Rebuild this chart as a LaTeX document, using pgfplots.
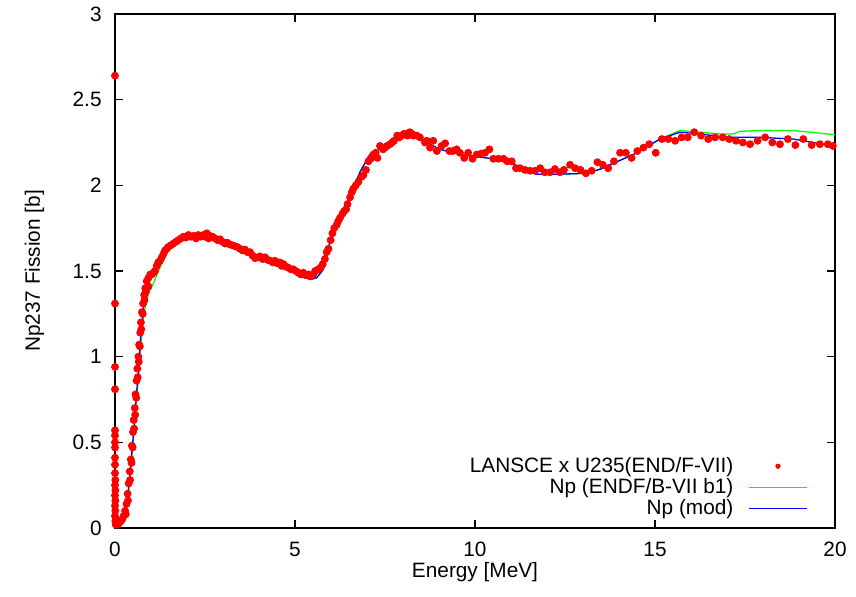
\documentclass[border=0pt]{standalone}
\usepackage{fontspec}
\setmainfont{Liberation Sans}
\usepackage{pgfplots}
\pgfplotsset{compat=1.18}
\definecolor{gpred}{RGB}{255,0,0}
\definecolor{gpgreen}{RGB}{0,255,0}
\definecolor{gpblue}{RGB}{0,0,255}
\newcommand{\gpfont}{\fontsize{10.4}{12.5}\selectfont}
\begin{document}
\begin{tikzpicture}[font=\gpfont]
\useasboundingbox (0,0) rectangle (428pt,298.5pt);
\begin{axis}[
  at={(57.5pt,34.5pt)}, anchor=south west,
  width=360pt, height=257pt, scale only axis,
  xmin=0, xmax=20, ymin=0, ymax=3,
  xtick={0,5,10,15,20}, ytick={0,0.5,1,1.5,2,2.5,3},
  tick align=inside, major tick length=4pt,
  axis line style={line width=0.7pt}, every tick/.style={line width=0.7pt, black},
  /pgf/number format/assume math mode=true,
  tick label style={font=\gpfont},
  yticklabel style={inner sep=0pt, xshift=-6.5pt},
  xticklabel style={inner sep=0pt, yshift=-7pt},
  xlabel={Energy [MeV]}, ylabel={Np237 Fission [b]},
  label style={font=\gpfont},
  every axis x label/.style={at={(axis description cs:0.5,0)}, anchor=base, yshift=-25pt},
  every axis y label/.style={at={(axis description cs:0,0.5)}, xshift=-37.5pt, rotate=90, anchor=base},
  clip=false,
  legend plot pos=right,
  legend cell align=right,
  legend style={draw=none, fill=none, font=\gpfont, at={(0.9625,0.0163)}, anchor=south east,
    inner sep=0pt, row sep=0.5pt, column sep=7.5pt,
    nodes={inner sep=0pt, text height=7.5pt, text depth=2.5pt}},
]
\addplot[only marks, mark=*, mark size=1.75pt, color=gpred,
  legend image code/.code={\fill[gpred] (14.5pt,0.5pt) circle (1.1pt);}]
coordinates {
(0,2.64)(0,1.31)(0,0.94)(0,0.81)(0,0.57)(0,0.54)(0,0.50)(0,0.47)(0,0.41)(0,0.37)(0,0.32)
(0.01,0.28)(0,0.25)(0.01,0.22)(0,0.19)(0.01,0.16)(0,0.13)(0.01,0.10)(0,0.07)(0.01,0.04)(0.02,0.02)
(0.03,0.05)(0.05,0.02)(0.08,0.02)(0.12,0.03)(0.16,0.04)(0.2,0.05)(0.24,0.07)(0.28,0.10)(0.32,0.14)
(0.35,0.20)(0.38,0.26)(0.41,0.33)(0.44,0.40)(0.47,0.48)(0.50,0.56)(0.52,0.63)(0.55,0.70)(0.57,0.78)
(0.60,0.86)(0.62,0.93)(0.65,1.00)(0.67,1.07)(0.70,1.14)(0.72,1.20)(0.75,1.26)(0.78,1.31)(0.81,1.36)
(0.84,1.40)(0.88,1.44)(0.93,1.46)(0.98,1.48)
(0.30,0.08)(0.36,0.16)(0.42,0.28)(0.46,0.38)(0.49,0.47)(0.53,0.58)(0.56,0.66)(0.59,0.76)(0.63,0.88)
(0.66,0.97)(0.69,1.06)(0.73,1.16)(0.77,1.25)(0.82,1.33)(0.86,1.38)
(0.93,1.41)(1.02,1.48)(1.07,1.49)(1.11,1.50)(1.16,1.53)(1.20,1.55)(1.25,1.56)(1.30,1.58)(1.35,1.60)
(1.39,1.62)(1.44,1.63)(1.48,1.64)(1.55,1.65)(1.62,1.66)(1.69,1.67)(1.76,1.68)(1.83,1.69)(1.90,1.70)
(1.97,1.695)(2.04,1.71)(2.11,1.70)(2.18,1.705)(2.25,1.69)(2.31,1.71)(2.38,1.70)(2.45,1.71)(2.50,1.70)
(2.55,1.72)(2.60,1.69)(2.64,1.705)(2.71,1.70)(2.78,1.69)(2.85,1.68)(2.92,1.685)(2.99,1.67)(3.06,1.66)
(3.12,1.665)(3.19,1.655)(3.26,1.65)(3.33,1.645)(3.40,1.64)(3.47,1.63)(3.54,1.62)(3.61,1.625)
(3.68,1.61)(3.75,1.61)(3.82,1.59)(3.89,1.575)(3.96,1.58)(4.03,1.585)(4.10,1.57)(4.17,1.58)
(4.24,1.565)(4.31,1.56)(4.38,1.55)(4.44,1.56)(4.51,1.545)(4.58,1.55)(4.63,1.53)(4.68,1.54)
(4.75,1.525)(4.81,1.52)(4.88,1.51)(4.95,1.51)(5.02,1.50)(5.09,1.49)(5.16,1.48)(5.23,1.49)
(5.30,1.475)(5.37,1.48)(5.44,1.47)(5.51,1.48)(5.56,1.50)(5.65,1.51)(5.71,1.52)(5.77,1.54)(5.83,1.57)
(5.88,1.61)(5.93,1.63)(5.99,1.68)(6.04,1.72)(6.09,1.75)(6.16,1.77)(6.20,1.79)(6.25,1.81)(6.32,1.835)
(6.37,1.85)(6.42,1.86)(6.46,1.89)(6.53,1.93)(6.58,1.96)(6.62,1.98)(6.69,2.00)(6.76,2.02)(6.85,2.05)
(6.90,2.06)(6.97,2.09)(7.04,2.14)(7.10,2.155)(7.18,2.18)(7.24,2.19)(7.29,2.16)(7.36,2.23)(7.45,2.21)
(7.50,2.22)(7.56,2.23)(7.64,2.24)(7.70,2.25)(7.75,2.26)(7.84,2.29)(7.90,2.28)(7.96,2.29)(8.02,2.30)
(8.08,2.30)(8.13,2.29)(8.19,2.31)(8.25,2.30)(8.29,2.29)(8.38,2.29)(8.47,2.28)
(8.61,2.25)(8.66,2.26)(8.75,2.22)(8.84,2.26)(8.94,2.20)(9.07,2.23)(9.17,2.245)(9.29,2.20)(9.38,2.20)
(9.49,2.21)(9.58,2.19)(9.70,2.16)(9.81,2.19)(9.93,2.155)(10.05,2.18)(10.17,2.185)(10.28,2.19)
(10.40,2.21)(10.51,2.155)(10.65,2.155)(10.79,2.155)(10.90,2.14)(11.02,2.14)(11.14,2.10)(11.25,2.10)
(11.39,2.09)(11.53,2.085)(11.67,2.085)(11.81,2.10)(11.94,2.076)(12.08,2.076)(12.22,2.095)
(12.36,2.076)(12.47,2.09)(12.64,2.12)(12.78,2.10)(12.93,2.09)(13.08,2.07)(13.24,2.085)(13.40,2.135)
(13.55,2.12)(13.70,2.10)(13.86,2.14)(14.03,2.19)(14.19,2.19)(14.35,2.16)(14.51,2.20)(14.68,2.22)
(14.84,2.24)(15.02,2.19)(15.19,2.27)(15.37,2.27)(15.56,2.26)(15.74,2.28)(15.91,2.28)(16.09,2.31)
(16.28,2.29)(16.48,2.27)(16.67,2.28)(16.88,2.28)(17.06,2.27)(17.25,2.26)(17.44,2.25)(17.64,2.24)
(17.85,2.26)(18.06,2.28)(18.26,2.25)(18.47,2.24)(18.69,2.27)(18.90,2.235)(19.12,2.27)(19.35,2.235)
(19.58,2.24)(19.80,2.24)(19.94,2.23)
};
\addlegendentry{LANSCE x U235(END/F-VII)}
\addplot[color=gpgreen, line width=0.65pt, mark=none,
  legend image code/.code={\draw[gpgreen, line width=0.6pt] (0pt,0.5pt) -- (29pt,0.5pt);}]
coordinates {
(0,0)(0.1,0.01)(0.2,0.03)(0.28,0.07)(0.34,0.14)(0.4,0.25)(0.45,0.37)(0.5,0.49)(0.55,0.62)(0.6,0.76)
(0.65,0.88)(0.7,1.03)(0.75,1.15)(0.8,1.25)(0.87,1.32)(0.95,1.38)(1.05,1.42)(1.15,1.47)(1.25,1.52)
(1.4,1.59)(1.55,1.64)(1.7,1.67)(1.81,1.69)(2.04,1.71)(2.27,1.71)(2.5,1.69)(2.64,1.70)(2.92,1.68)
(3.2,1.65)(3.56,1.62)(4.03,1.57)(4.49,1.54)(4.95,1.49)(5.2,1.47)(5.42,1.45)(5.6,1.46)(5.79,1.51)
(5.97,1.67)(6.25,1.82)(6.53,1.94)(6.81,2.08)(7.08,2.18)(7.45,2.22)(7.82,2.28)(8.15,2.30)(8.56,2.26)
(9.03,2.21)(9.4,2.19)(9.58,2.18)(10.32,2.16)(10.97,2.14)(11.25,2.10)(11.71,2.065)(12.36,2.065)
(13.1,2.07)(13.56,2.10)(13.75,2.12)(14.4,2.18)(15.14,2.27)(15.69,2.32)(16.25,2.31)(16.8,2.30)
(17.18,2.30)(17.36,2.315)(17.92,2.32)(18.84,2.32)(19.31,2.31)(20,2.295)
};
\addlegendentry{Np (ENDF/B-VII b1)}
\addplot[color=gpblue, line width=0.65pt, mark=none,
  legend image code/.code={\draw[gpblue, line width=0.6pt] (0pt,0.5pt) -- (29pt,0.5pt);}]
coordinates {
(0,0)(0.1,0.01)(0.2,0.03)(0.28,0.08)(0.34,0.16)(0.4,0.28)(0.45,0.40)(0.5,0.52)(0.55,0.65)(0.6,0.79)
(0.65,0.90)(0.7,1.08)(0.75,1.20)(0.8,1.30)(0.87,1.38)(0.95,1.44)(1.05,1.48)(1.11,1.50)(1.25,1.57)
(1.4,1.62)(1.53,1.65)(1.7,1.68)(1.81,1.69)(2.04,1.71)(2.27,1.71)(2.5,1.69)(2.64,1.70)(2.92,1.68)
(3.2,1.65)(3.56,1.62)(4.03,1.57)(4.49,1.54)(4.95,1.49)(5.2,1.47)(5.42,1.45)(5.6,1.46)(5.79,1.51)
(5.97,1.67)(6.25,1.82)(6.53,1.94)(6.81,2.08)(7.08,2.18)(7.45,2.22)(7.82,2.28)(8.15,2.30)(8.56,2.26)
(9.03,2.21)(9.4,2.19)(9.58,2.18)(10.32,2.16)(10.97,2.14)(11.25,2.10)(11.71,2.065)(12.36,2.065)
(13.1,2.07)(13.56,2.10)(13.75,2.12)(14.4,2.18)(15.14,2.27)(15.69,2.31)(16.25,2.30)(16.99,2.28)
(17.92,2.28)(18.84,2.27)(19.4,2.25)(20,2.23)
};
\addlegendentry{Np (mod)}
\end{axis}
\end{tikzpicture}
\end{document}
